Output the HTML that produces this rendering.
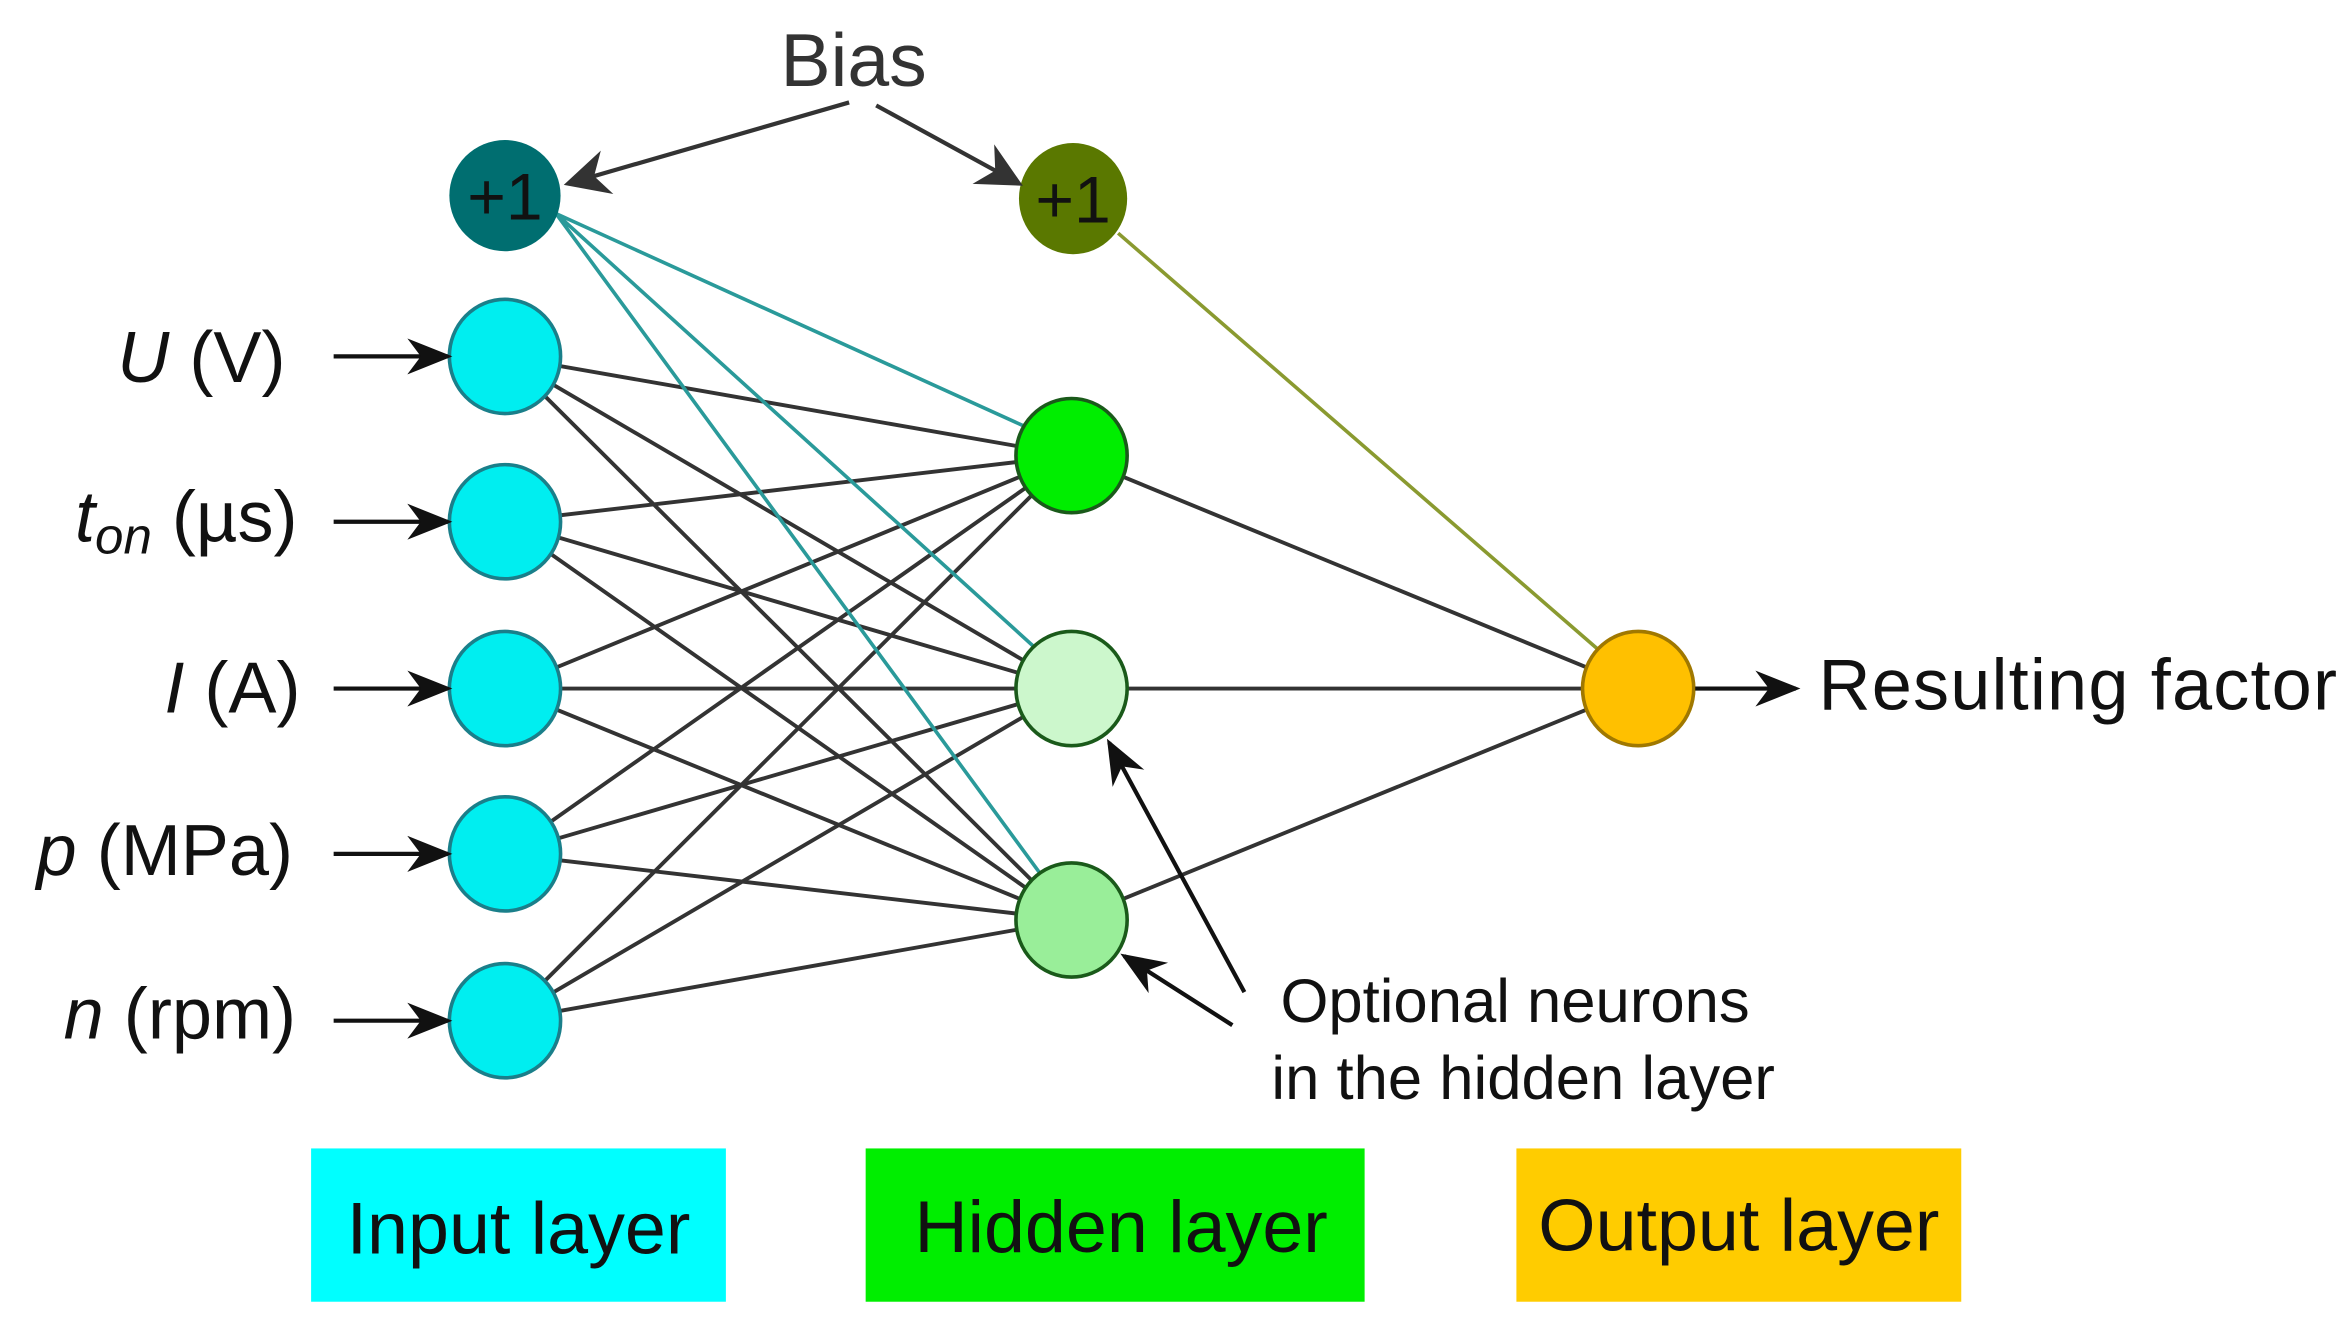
<!DOCTYPE html>
<html><head><style>html,body{margin:0;padding:0;background:#fff}svg{display:block}</style></head>
<body>
<svg width="2349" height="1323" viewBox="0 0 1563 880" xmlns="http://www.w3.org/2000/svg" font-family="Liberation Sans, DejaVu Sans, sans-serif">
<defs>
<marker id="ab" viewBox="0 0 10 10" refX="9" refY="5" markerWidth="30" markerHeight="30" markerUnits="userSpaceOnUse" orient="auto"><path d="M0,0 L10,5 L0,10 L3,5 z" fill="#333"/></marker>
<marker id="ai" viewBox="0 0 10 10" refX="9" refY="5" markerWidth="30" markerHeight="30" markerUnits="userSpaceOnUse" orient="auto"><path d="M0,1 L10,5 L0,9 L3,5 z" fill="#111"/></marker>
</defs>
<rect width="1563" height="880" fill="#fff"/>
<g stroke="#333" stroke-width="2.6">
<path d="M336,237L713,303M336,237L713,458M336,237L713,612
M336,347L713,303M336,347L713,458M336,347L713,612
M336,458L713,303M336,458L713,458M336,458L713,612
M336,568L713,303M336,568L713,458M336,568L713,612
M336,679L713,303M336,679L713,458M336,679L713,612
M713,303L1090,458M713,458L1090,458M713,612L1090,458"/>
</g>
<g stroke="#2a9a9a" stroke-width="2.4" fill="none">
<path d="M370,142 L685,285 M370,142 L690,432 M370,142 L695,585"/>
</g>
<path d="M744,155 L1068,436" stroke="#8a9a30" stroke-width="2.4"/>
<g stroke="#1a7f8a" stroke-width="2.4" fill="#00eef0">
<ellipse cx="336" cy="237" rx="37" ry="38"/>
<ellipse cx="336" cy="347" rx="37" ry="38"/>
<ellipse cx="336" cy="458" rx="37" ry="38"/>
<ellipse cx="336" cy="568" rx="37" ry="38"/>
<ellipse cx="336" cy="679" rx="37" ry="38"/>
</g>
<ellipse cx="336" cy="130" rx="37" ry="37" fill="#006e70"/>
<ellipse cx="714" cy="132" rx="36" ry="37" fill="#5a7800"/>
<g stroke="#1a5a1a" stroke-width="2.4">
<ellipse cx="713" cy="303" rx="37" ry="38" fill="#00ee00"/>
<ellipse cx="713" cy="458" rx="37" ry="38" fill="#ccf7cc"/>
<ellipse cx="713" cy="612" rx="37" ry="38" fill="#99ee99"/>
</g>
<ellipse cx="1090" cy="458" rx="37" ry="38" fill="#ffc000" stroke="#a07800" stroke-width="2.4"/>
<text x="336" y="146" font-size="44" text-anchor="middle" fill="#111">+1</text>
<text x="714" y="148" font-size="44" text-anchor="middle" fill="#111">+1</text>
<text x="568" y="57" font-size="50" text-anchor="middle" fill="#333">Bias</text>
<g stroke="#333" stroke-width="2.8" fill="none">
<path d="M565,68 L378,122" marker-end="url(#ab)"/>
<path d="M583,70 L678,122" marker-end="url(#ab)"/>
</g>
<g stroke="#111" stroke-width="2.8">
<path d="M222,237 L298,237" marker-end="url(#ai)"/>
<path d="M222,347 L298,347" marker-end="url(#ai)"/>
<path d="M222,458 L298,458" marker-end="url(#ai)"/>
<path d="M222,568 L298,568" marker-end="url(#ai)"/>
<path d="M222,679 L298,679" marker-end="url(#ai)"/>
<path d="M1128,458 L1195,458" marker-end="url(#ai)"/>
<path d="M828,660 L738,494" marker-end="url(#ai)"/>
<path d="M820,682 L748,636" marker-end="url(#ai)"/>
</g>
<g font-size="48" fill="#111" text-anchor="end">
<text x="190" y="254"><tspan font-style="italic">U</tspan> (V)</text>
<text x="198" y="360"><tspan font-style="italic">t</tspan><tspan font-style="italic" font-size="34" dy="8">on</tspan><tspan dy="-8"> (µs)</tspan></text>
<text x="200" y="474"><tspan font-style="italic">I</tspan> (A)</text>
<text x="195" y="582"><tspan font-style="italic">p</tspan> (MPa)</text>
<text x="197" y="691"><tspan font-style="italic">n</tspan> (rpm)</text>
</g>
<text x="1210" y="472" font-size="48" fill="#111" textLength="345">Resulting factor</text>
<text x="852" y="680" font-size="41" fill="#111">Optional neurons</text>
<text x="846" y="731" font-size="41" fill="#111">in the hidden layer</text>
<rect x="207" y="764" width="276" height="102" fill="#00ffff"/>
<rect x="576" y="764" width="332" height="102" fill="#00ee00"/>
<rect x="1009" y="764" width="296" height="102" fill="#ffcc00"/>
<g font-size="49" fill="#111" text-anchor="middle">
<text x="345" y="834">Input layer</text>
<text x="746" y="833">Hidden layer</text>
<text x="1157" y="832">Output layer</text>
</g>
</svg>
</body></html>
